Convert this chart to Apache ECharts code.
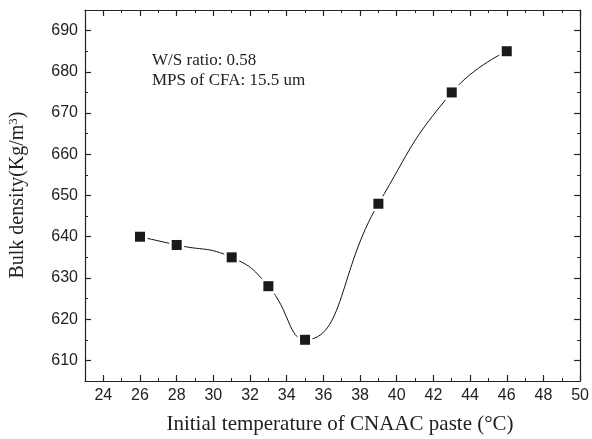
<!DOCTYPE html>
<html><head><meta charset="utf-8">
<script src="https://cdn.jsdelivr.net/npm/echarts@6/dist/echarts.min.js"></script>
<style>html,body{margin:0;padding:0;background:#fff}#c{width:592px;height:439px}</style>
</head><body><div id="c"></div>
<script>
const temps = [26, 28, 31, 33, 35, 39, 43, 46];
const density = [640, 638, 635, 628, 615, 648, 675, 685];
const xMajor = [24, 26, 28, 30, 32, 34, 36, 38, 40, 42, 44, 46, 48, 50];
const xMinor = [23, 25, 27, 29, 31, 33, 35, 37, 39, 41, 43, 45, 47, 49];
const yMajor = [610, 620, 630, 640, 650, 660, 670, 680, 690];
const yMinor = [605, 615, 625, 635, 645, 655, 665, 675, 685, 695];
const xRange = [23, 50];
const yRange = [605, 695];

const pts = temps.map((t, i) => [t, density[i]]);
const lineCol = '#222';
const sans = 'Liberation Sans';

function ax(pos, range, major, minor, labels) {
  const base = {
    type: 'value', position: pos, min: range[0], max: range[1],
    splitLine: { show: false }
  };
  return [
    Object.assign({}, base, {
      axisLine: { show: true, lineStyle: { color: lineCol, width: 1.2 } },
      axisTick: { show: true, inside: true, length: 6, customValues: major, lineStyle: { color: lineCol, width: 1.2 } },
      axisLabel: labels ? { show: true, customValues: major, color: '#222', fontFamily: sans, fontSize: 16, margin: 7 } : { show: false }
    }),
    Object.assign({}, base, {
      axisLine: { show: false },
      axisTick: { show: true, inside: true, length: 3, customValues: minor, lineStyle: { color: lineCol, width: 1 } },
      axisLabel: { show: false }
    })
  ];
}

const chart = echarts.init(document.getElementById('c'));
chart.setOption({
  animation: false,
  backgroundColor: '#fff',
  grid: { left: 85, right: 8, top: 10, bottom: 58, containLabel: false },
  xAxis: [].concat(ax('bottom', xRange, xMajor, xMinor, true), ax('top', xRange, xMajor, xMinor, false)),
  yAxis: [].concat(ax('left', yRange, yMajor, yMinor, true), ax('right', yRange, yMajor, yMinor, false)),
  graphic: [
    { type: 'text', x: 152, y: 61, style: { text: 'W/S ratio: 0.58', font: '17px "Liberation Serif"', fill: '#222', verticalAlign: 'middle' } },
    { type: 'text', x: 152, y: 81, style: { text: 'MPS of CFA: 15.5 um', font: '17px "Liberation Serif"', fill: '#222', verticalAlign: 'middle' } },
    { type: 'text', x: 340, y: 424, style: { text: 'Initial temperature of CNAAC paste (°C)', font: '21px "Liberation Serif"', fill: '#222', align: 'center', verticalAlign: 'middle' } },
    { type: 'text', x: 18, y: 195, rotation: Math.PI / 2,
      style: { text: '{n|Bulk density(Kg/m}{s|3}{n|)}', align: 'center', verticalAlign: 'middle',
        rich: { n: { font: '20px "Liberation Serif"', fill: '#222', color: '#222' },
                s: { font: '13px "Liberation Serif"', fill: '#222', color: '#222', verticalAlign: 'top', padding: [0,0,9,0] } } } }
  ],
  series: [
    { type: 'line', data: pts, smooth: 0.5, showSymbol: false, xAxisIndex: 0, yAxisIndex: 0,
      lineStyle: { color: '#111', width: 1 }, z: 2 },
    { type: 'scatter', data: pts, symbol: 'rect', symbolSize: 15, itemStyle: { color: '#fff', opacity: 1 }, z: 3, silent: true },
    { type: 'scatter', data: pts, symbol: 'rect', symbolSize: 10, itemStyle: { color: '#1a1a1a', opacity: 1 }, z: 4 }
  ]
});
</script></body></html>
